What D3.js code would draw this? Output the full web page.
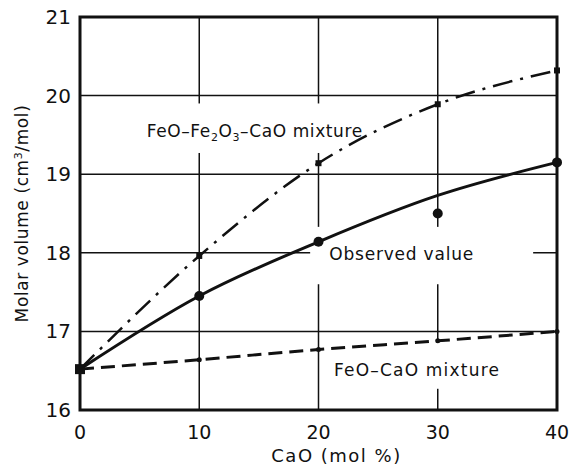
<!DOCTYPE html>
<html>
<head>
<meta charset="utf-8">
<script src="https://cdn.jsdelivr.net/npm/d3@7"></script>
<style>
  body { margin: 0; background: #fff; }
  svg text { font-family: "DejaVu Sans", sans-serif; fill: #111; }
</style>
</head>
<body>
<svg id="chart" width="577" height="470"></svg>
<script>
// CaO content (mol %)
const cao = [0, 10, 20, 30, 40];
const xTicks = [0, 10, 20, 30, 40];
const yTicks = [16, 17, 18, 19, 20, 21];

// molar volume (cm3/mol)
const observedPoints = [16.52, 17.45, 18.14, 18.5, 19.15];
const observedCurve = [16.52, 17.45, 18.14, 18.73, 19.15];
const feoFe2o3Cao = [16.52, 17.96, 19.14, 19.89, 20.32];
const feoCao = [16.52, 16.64, 16.77, 16.88, 17.0];

const svg = d3.select("#chart");
const margin = { top: 17, right: 20, bottom: 60, left: 80 };
const width = 577, height = 470;

const x = d3.scaleLinear().domain([0, 40]).range([margin.left, width - margin.right]);
const y = d3.scaleLinear().domain([16, 21]).range([height - margin.bottom, margin.top]);

// grid
const grid = svg.append("g").attr("stroke", "#111").attr("stroke-width", 1.5);
grid.selectAll(".vg").data(xTicks.slice(1, -1)).join("line")
  .attr("x1", d => x(d)).attr("x2", d => x(d))
  .attr("y1", y(21)).attr("y2", y(16));
grid.selectAll(".hg").data(yTicks.slice(1, -1)).join("line")
  .attr("x1", x(0)).attr("x2", x(40))
  .attr("y1", d => y(d)).attr("y2", d => y(d));

// white patches where the labels break the grid
const gaps = [
  [5.5, 19.9, 24, 19.27],
  [19.3, 18.33, 38, 17.6],
  [20.7, 16.87, 35, 16.27]
];
svg.append("g").selectAll("rect").data(gaps).join("rect")
  .attr("x", d => x(d[0])).attr("y", d => y(d[1]))
  .attr("width", d => x(d[2]) - x(d[0]))
  .attr("height", d => y(d[3]) - y(d[1]))
  .attr("fill", "#fff");

// frame
svg.append("rect")
  .attr("x", x(0)).attr("y", y(21))
  .attr("width", x(40) - x(0)).attr("height", y(16) - y(21))
  .attr("fill", "none").attr("stroke", "#111").attr("stroke-width", 3);

// curves
const line = vals => d3.line()
  .x((d, i) => x(cao[i]))
  .y(d => y(d))
  .curve(d3.curveMonotoneX)(vals);

svg.append("path").attr("d", line(feoFe2o3Cao))
  .attr("fill", "none").attr("stroke", "#111").attr("stroke-width", 2.5)
  .attr("stroke-dasharray", "20,8,3,8");
svg.append("path").attr("d", line(observedCurve))
  .attr("fill", "none").attr("stroke", "#111").attr("stroke-width", 3);
svg.append("path").attr("d", line(feoCao))
  .attr("fill", "none").attr("stroke", "#111").attr("stroke-width", 3)
  .attr("stroke-dasharray", "14,7");

// markers
svg.append("g").selectAll("circle").data(observedPoints.slice(1)).join("circle")
  .attr("cx", (d, i) => x(cao[i + 1])).attr("cy", d => y(d))
  .attr("r", 5).attr("fill", "#111");
svg.append("g").selectAll("rect").data(feoFe2o3Cao.slice(1)).join("rect")
  .attr("x", (d, i) => x(cao[i + 1]) - 3).attr("y", d => y(d) - 3)
  .attr("width", 6).attr("height", 6).attr("fill", "#111");
svg.append("g").selectAll("circle").data(feoCao.slice(1)).join("circle")
  .attr("cx", (d, i) => x(cao[i + 1])).attr("cy", d => y(d))
  .attr("r", 2.5).attr("fill", "#111");
svg.append("rect")
  .attr("x", x(0) - 5).attr("y", y(observedPoints[0]) - 5)
  .attr("width", 10).attr("height", 10).attr("fill", "#111");

// tick labels
svg.append("g").selectAll("text").data(yTicks).join("text")
  .attr("x", x(0) - 9).attr("y", d => y(d) + 7)
  .attr("text-anchor", "end").attr("font-size", 20)
  .text(d => d);
svg.append("g").selectAll("text").data(xTicks).join("text")
  .attr("x", d => x(d)).attr("y", y(16) + 29)
  .attr("text-anchor", "middle").attr("font-size", 19)
  .text(d => d);

// axis titles
svg.append("text")
  .attr("x", (x(0) + x(40)) / 2 + 18).attr("y", 462)
  .attr("text-anchor", "middle").attr("font-size", 18)
  .attr("letter-spacing", 1.5)
  .text("CaO (mol %)");
const yt = svg.append("text")
  .attr("transform", `translate(28,${y(18.5)}) rotate(-90)`)
  .attr("text-anchor", "middle").attr("font-size", 17)
  .attr("letter-spacing", 0.6);
yt.append("tspan").text("Molar volume (cm");
yt.append("tspan").attr("dy", -6).attr("font-size", 11).text("3");
yt.append("tspan").attr("dy", 6).text("/mol)");

// series labels
const l1 = svg.append("text").attr("x", x(5.6)).attr("y", y(19.55) + 6)
  .attr("font-size", 17).attr("letter-spacing", 0.6);
l1.append("tspan").text("FeO\u2013Fe");
l1.append("tspan").attr("dy", 4).attr("font-size", 11).text("2");
l1.append("tspan").attr("dy", -4).text("O");
l1.append("tspan").attr("dy", 4).attr("font-size", 11).text("3");
l1.append("tspan").attr("dy", -4).text("\u2013CaO mixture");

svg.append("text").attr("x", x(20.9)).attr("y", y(18) + 7)
  .attr("font-size", 17).attr("letter-spacing", 0.8).text("Observed value");
svg.append("text").attr("x", x(21.3)).attr("y", y(16.52) + 7)
  .attr("font-size", 17).attr("letter-spacing", 1.2).text("FeO\u2013CaO mixture");
</script>
</body>
</html>
